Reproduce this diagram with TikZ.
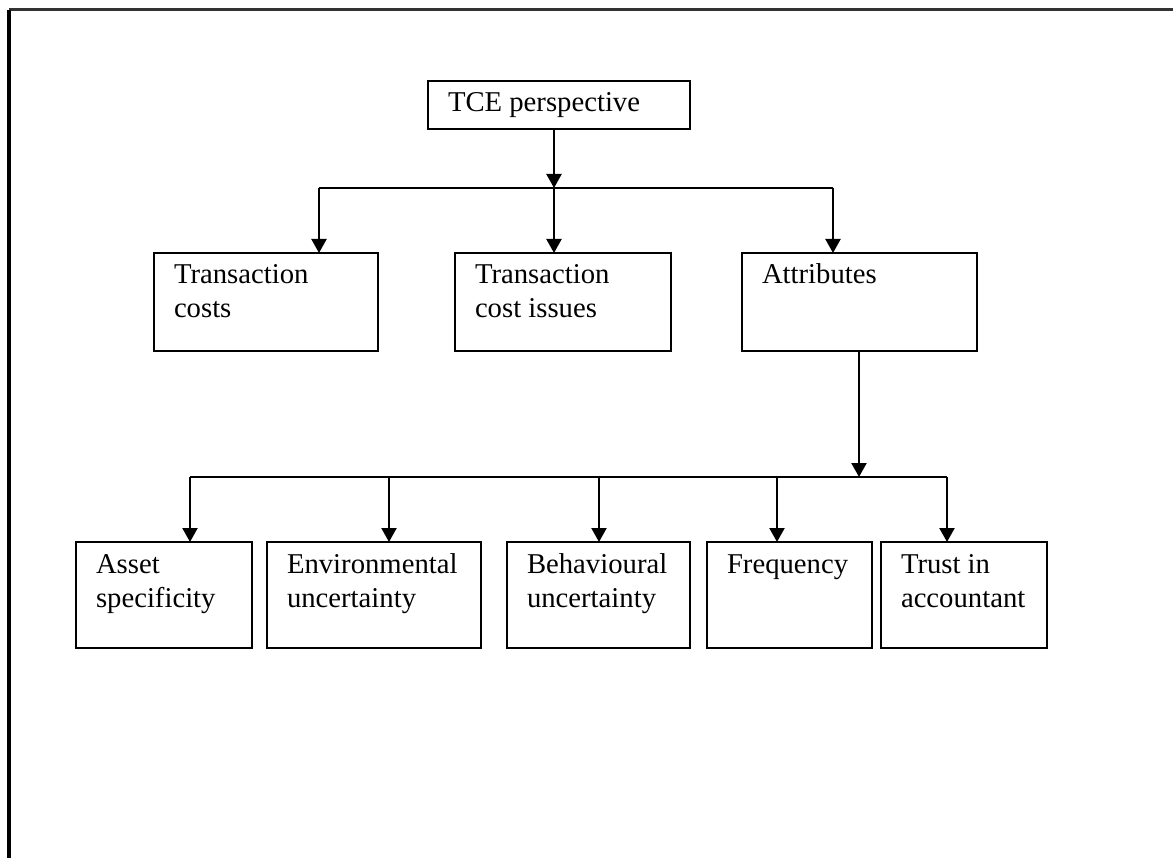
\documentclass[tikz,border=0pt]{standalone}
\usepackage{fontspec}
\setmainfont{Liberation Serif}
\usetikzlibrary{arrows.meta}
% box content: fixed-size top-aligned paragraph with left padding
\newcommand{\cellbox}[3]{\parbox[t][#2][t]{#1}{\fontsize{28.7}{34}\selectfont\leftskip=20pt\rule{0pt}{31pt}#3}}
\begin{document}
\begin{tikzpicture}[x=1pt,y=-1pt,
  box/.style={draw, line width=2pt, inner sep=0pt, outer sep=0pt, anchor=north west},
  conn/.style={line width=2.2pt},
  arr/.style={conn, -{Triangle[length=14pt,width=15pt]}}]
\useasboundingbox (0,0) rectangle (1173,858);
\fill[white] (0,0) rectangle (1173,858);
% page frame
\draw[line width=3pt, black!80] (9,10) -- (1173,10);
\draw[line width=3.2pt] (9,10) -- (9,858);

% root
\node[box] (tce) at (428,81) {\cellbox{262pt}{48pt}{TCE perspective}};

% second level
\node[box] (tc)   at (154,253) {\cellbox{224pt}{98pt}{Transaction\\costs}};
\node[box] (tci)  at (455,253) {\cellbox{216pt}{98pt}{Transaction\\cost issues}};
\node[box] (attr) at (742,253) {\cellbox{235pt}{98pt}{Attributes}};

% third level
\node[box] (asset) at (76,542)  {\cellbox{176pt}{106pt}{Asset\\specificity}};
\node[box] (env)   at (267,542) {\cellbox{214pt}{106pt}{Environmental\\uncertainty}};
\node[box] (beh)   at (507,542) {\cellbox{183pt}{106pt}{Behavioural\\uncertainty}};
\node[box] (freq)  at (707,542) {\cellbox{165pt}{106pt}{Frequency}};
\node[box] (trust) at (881,542) {\cellbox{166pt}{106pt}{Trust in\\accountant}};

% upper bus
\coordinate (j1)  at (554,188);
\coordinate (b1l) at (319,188);
\coordinate (b1r) at (833,188);
\draw[arr] (tce.south -| j1) -- (j1);
\draw[conn] (b1l) -- (b1r);
\draw[arr] (b1l) -- (b1l |- tc.north);
\draw[arr] (j1)  -- (j1 |- tci.north);
\draw[arr] (b1r) -- (b1r |- attr.north);

% lower bus
\coordinate (j2)  at (859,477);
\coordinate (d1)  at (190,477);
\coordinate (d2)  at (389,477);
\coordinate (d3)  at (599,477);
\coordinate (d4)  at (777,477);
\coordinate (d5)  at (947,477);
\draw[arr] (attr.south -| j2) -- (j2);
\draw[conn] (d1) -- (d5);
\draw[arr] (d1) -- (d1 |- asset.north);
\draw[arr] (d2) -- (d2 |- env.north);
\draw[arr] (d3) -- (d3 |- beh.north);
\draw[arr] (d4) -- (d4 |- freq.north);
\draw[arr] (d5) -- (d5 |- trust.north);
\end{tikzpicture}
\end{document}
